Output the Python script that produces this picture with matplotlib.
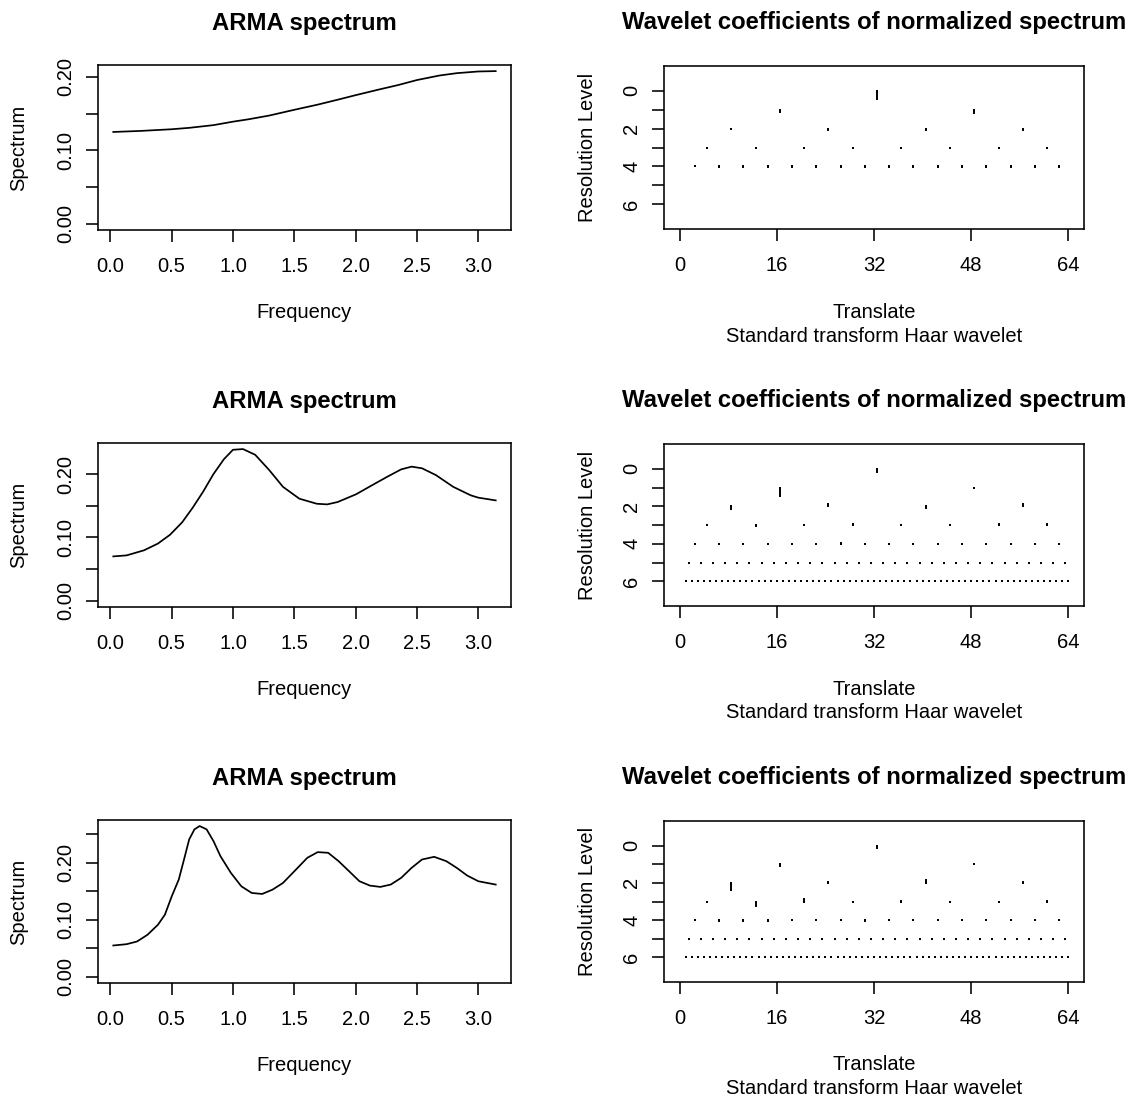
import numpy as np
import matplotlib.pyplot as plt

plt.rcParams['font.family'] = ['Liberation Sans', 'DejaVu Sans']

# ARMA spectra (frequency, spectrum)
freq1 = [0.0245, 0.246, 0.501, 0.643, 0.841, 1.0, 1.125, 1.295, 1.501, 1.691,
         1.861, 2.003, 2.201, 2.343, 2.501, 2.683, 2.824, 3.0, 3.1416]
spec1 = [0.1251, 0.1265, 0.1288, 0.1307, 0.1344, 0.1391, 0.1423, 0.1474, 0.1553, 0.1623,
         0.1693, 0.1753, 0.1833, 0.1888, 0.1958, 0.2019, 0.2051, 0.2074, 0.2079]

freq2 = [0.0245, 0.133, 0.275, 0.388, 0.487, 0.586, 0.671, 0.756, 0.841, 0.926,
         1.0, 1.082, 1.181, 1.295, 1.408, 1.541, 1.683, 1.768, 1.853, 2.003,
         2.144, 2.258, 2.371, 2.456, 2.541, 2.654, 2.796, 2.938, 3.0, 3.1416]
spec2 = [0.0702, 0.0718, 0.0798, 0.0904, 0.1043, 0.124, 0.1468, 0.172, 0.200, 0.2234,
         0.2383, 0.2394, 0.2304, 0.2064, 0.1798, 0.1612, 0.1532, 0.1522, 0.1559, 0.1681,
         0.1835, 0.1958, 0.2074, 0.2117, 0.2091, 0.1984, 0.1798, 0.1665, 0.1628, 0.1585]

freq3 = [0.0245, 0.133, 0.218, 0.303, 0.388, 0.445, 0.501, 0.558, 0.601, 0.643,
         0.686, 0.728, 0.785, 0.841, 0.898, 0.983, 1.068, 1.153, 1.238, 1.323,
         1.408, 1.501, 1.606, 1.691, 1.776, 1.861, 1.946, 2.031, 2.116, 2.201,
         2.286, 2.371, 2.456, 2.541, 2.640, 2.739, 2.824, 2.909, 3.0, 3.1416]
spec3 = [0.0550, 0.0573, 0.062, 0.0737, 0.0912, 0.1088, 0.141, 0.1702, 0.2053, 0.2404,
         0.258, 0.2638, 0.258, 0.2375, 0.2111, 0.1819, 0.1585, 0.1468, 0.1451, 0.1527,
         0.1644, 0.1849, 0.2083, 0.2182, 0.217, 0.2024, 0.1849, 0.1673, 0.1597, 0.1574,
         0.1615, 0.1732, 0.1907, 0.2053, 0.21, 0.2024, 0.1907, 0.1773, 0.1673, 0.1615]

# Haar coefficients (scaled, in units of one resolution level), levels 0..6
wd1 = [
    [0.5],
    [0.15, 0.22],
    [0, 0.1, 0.1, 0.1],
    [0, 0, 0.07, 0.07, 0.07, 0.07, 0.07, 0],
    [0, 0.07, 0.07, 0.07, 0.07, 0.07, 0.07, 0.07, 0.07, 0.07, 0.07, 0.07, 0.07, 0.07, 0.07, 0.07],
    None,
    None,
]
wd2 = [
    [0.2],
    [0.5, 0.1],
    [0.2, -0.15, 0.12, -0.15],
    [0, 0.1, 0, -0.1, 0, 0, -0.1, -0.1],
    [0, 0, 0, 0, 0, 0, -0.07, 0, 0, 0, 0, 0, 0, 0, 0, 0],
    [0, 0, 0, 0, 0, 0, 0, 0, 0, 0, 0, 0, 0, 0, 0, 0,
     0, 0, 0, 0, 0, 0, 0, 0, 0, 0, 0, 0, 0, 0, 0, 0],
    [0, 0, 0, 0, 0, 0, 0, 0, 0, 0, 0, 0, 0, 0, 0, 0,
     0, 0, 0, 0, 0, 0, 0, 0, 0, 0, 0, 0, 0, 0, 0, 0,
     0, 0, 0, 0, 0, 0, 0, 0, 0, 0, 0, 0, 0, 0, 0, 0,
     0, 0, 0, 0, 0, 0, 0, 0, 0, 0, 0, 0, 0, 0, 0, 0],
]
wd3 = [
    [0.2],
    [0.17, 0],
    [0.45, -0.12, -0.2, -0.12],
    [0.1, 0.3, -0.2, 0.1, -0.1, 0, 0.1, -0.1],
    [0, 0.08, 0.08, 0.08, -0.08, 0, 0, 0.08, 0, 0, 0, 0, 0, 0, 0, 0],
    [0, 0, 0, 0, 0.06, 0.06, 0.06, 0, 0, 0, 0, 0, 0, 0, 0, 0,
     0, 0, 0, 0, 0, 0, 0, 0, 0, 0, 0, 0, 0, 0, 0, 0],
    [0, 0, 0, 0, 0, 0.05, 0.05, 0.05, 0.05, 0.05, 0.05, 0.05, 0.05, 0.05, 0, 0,
     0, 0, 0, 0, 0, 0, 0, 0, 0, 0, 0, 0.05, 0.05, 0.05, 0.05, 0.05,
     0.05, 0, 0, 0, 0, 0, 0, 0, 0, 0, 0, 0, 0, 0, 0, 0,
     0.05, 0.05, 0.05, 0, 0, 0, 0, 0, 0, 0, 0, 0, 0, 0, 0, 0],
]

spectra = [(freq1, spec1), (freq2, spec2), (freq3, spec3)]
wds = [wd1, wd2, wd3]

W, H = 1139, 1102
fig = plt.figure(figsize=(W / 100, H / 100), dpi=100)


def rect(l, t, r, b):
    return [l / W, 1 - b / H, (r - l) / W, (b - t) / H]


left_boxes = [(98, 65, 511, 230), (98, 443, 511, 607), (98, 820, 511, 983)]
right_boxes = [(664, 66, 1084, 229), (664, 444, 1084, 606), (664, 821, 1084, 982)]

FS = 14.5
TFS = 17.2
LW = 1.15


def style(ax):
    for s in ax.spines.values():
        s.set_linewidth(LW)
    ax.tick_params(direction='out', length=8.3, width=LW, labelsize=FS)
    ax.tick_params(axis='x', pad=11)
    ax.tick_params(axis='y', pad=8)


for i in range(3):
    # left: ARMA spectrum
    f, s = spectra[i]
    ax = fig.add_axes(rect(*left_boxes[i]))
    ax.plot(f, s, color='black', lw=1.25)
    xpad = 0.04 * (max(f) - min(f))
    ax.set_xlim(min(f) - xpad, max(f) + xpad)
    ypad = 0.04 * max(s)
    ax.set_ylim(-ypad, max(s) + ypad)
    ax.set_xticks(np.arange(0, 3.01, 0.5))
    ax.set_xticklabels(['0.0', '0.5', '1.0', '1.5', '2.0', '2.5', '3.0'])
    yt = np.arange(0, max(s) + 1e-9, 0.05)
    ax.set_yticks(yt)
    ax.set_yticklabels(['%.2f' % v if k % 2 == 0 else '' for k, v in enumerate(yt)],
                       rotation=90, va='center')
    style(ax)
    ax.set_title('ARMA spectrum', fontsize=TFS, fontweight='bold', pad=25.5)
    ax.set_xlabel('Frequency', fontsize=FS)
    ax.xaxis.set_label_coords(0.5, -0.445)
    ax.set_ylabel('Spectrum', fontsize=FS)
    ax.yaxis.set_label_coords(-0.17, 0.5)

    # right: wavelet coefficients
    ax = fig.add_axes(rect(*right_boxes[i]))
    for j, d in enumerate(wds[i]):
        if d is None:
            continue
        n = len(d)
        x = 2 ** (6 - j) * (np.arange(1, n + 1) - 0.5) + 0.5
        y = np.full(n, j)
        ax.vlines(x, y, y + np.array(d), color='black', lw=1.4)
        ax.plot(x, y, 's', color='black', ms=1.6, mew=0)
    ax.set_xlim(-2.56, 66.56)
    ax.set_ylim(7.32, -1.32)
    ax.set_xticks([0, 16, 32, 48, 64])
    ax.set_yticks(range(7))
    ax.set_yticklabels(['0', '', '2', '', '4', '', '6'], rotation=90, va='center')
    style(ax)
    ax.set_title('Wavelet coefficients of normalized spectrum', fontsize=TFS,
                 fontweight='bold', pad=26.5)
    ax.set_xlabel('Translate', fontsize=FS)
    ax.xaxis.set_label_coords(0.5, -0.455)
    ax.text(0.5, -0.60, 'Standard transform Haar wavelet', fontsize=FS,
            ha='center', va='top', transform=ax.transAxes)
    ax.set_ylabel('Resolution Level', fontsize=FS)
    ax.yaxis.set_label_coords(-0.16, 0.5)

fig.savefig('out.png', dpi=100)
